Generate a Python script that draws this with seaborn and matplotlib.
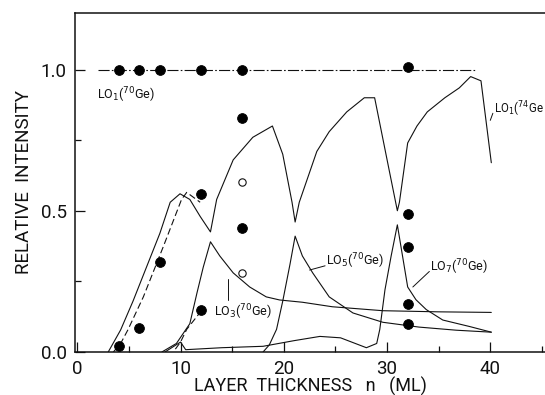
import matplotlib
matplotlib.use("Agg")
import matplotlib.pyplot as plt
import seaborn as sns
from matplotlib.ticker import MultipleLocator

# --- data -----------------------------------------------------------------
# LO1(70Ge) reference line at 1.0
lo1_70_n = [2.0, 38.5]
lo1_70_v = [1.0, 1.0]

# LO1(74Ge) sawtooth curve
lo1_74_n = [3.0, 4.2, 5.4, 6.7, 8.0, 9.0, 9.95, 10.9, 11.9, 12.9, 13.5, 15.1, 17.0,
            18.9, 19.9, 20.8, 21.1, 21.5, 23.2, 24.4, 26.1, 27.8, 28.8, 30.2, 31.0,
            31.2, 32.0, 32.9, 33.9, 35.6, 37.0, 38.1, 39.1, 40.1]
lo1_74_v = [0.0, 0.078, 0.18, 0.30, 0.42, 0.53, 0.56, 0.54, 0.48, 0.425, 0.54, 0.68, 0.76,
            0.80, 0.70, 0.53, 0.46, 0.53, 0.71, 0.78, 0.85, 0.90, 0.90, 0.645, 0.50,
            0.53, 0.74, 0.80, 0.85, 0.90, 0.935, 0.975, 0.96, 0.67]

# dashed companions
dash1_n = [3.5, 4.2, 4.9, 6.4, 8.3, 10.1, 10.6, 11.9]
dash1_v = [0.0, 0.03, 0.078, 0.195, 0.37, 0.54, 0.565, 0.53]
dash3_n = [9.5, 10.0, 10.6, 11.9]
dash3_v = [0.01, 0.035, 0.08, 0.14]

# LO3(70Ge)
lo3_n = [8.2, 9.6, 10.9, 11.6, 12.2, 12.9, 13.8, 15.1, 16.7, 18.3, 19.6, 21.8, 24.7, 29.6, 35.0, 40.1]
lo3_v = [0.0, 0.03, 0.10, 0.21, 0.30, 0.39, 0.34, 0.28, 0.23, 0.195, 0.184, 0.176, 0.16, 0.146, 0.142, 0.14]

# LO5(70Ge)
lo5_n = [18.0, 18.6, 19.3, 19.9, 20.6, 21.1, 21.8, 22.8, 24.4, 26.7, 29.6, 33.1, 36.7, 40.1]
lo5_v = [0.0, 0.025, 0.08, 0.18, 0.31, 0.41, 0.34, 0.28, 0.195, 0.138, 0.105, 0.088, 0.077, 0.07]

# LO7(70Ge)
lo7_n = [8.5, 10.0, 10.5, 14.0, 18.0, 21.0, 23.5, 25.5, 28.0, 29.0, 29.3, 29.8, 30.4, 31.0,
         31.5, 32.0, 32.8, 33.8, 35.4, 38.0, 40.1]
lo7_v = [0.0, 0.035, 0.008, 0.015, 0.02, 0.04, 0.055, 0.05, 0.015, 0.03, 0.08, 0.22, 0.34, 0.45,
         0.34, 0.23, 0.185, 0.15, 0.113, 0.09, 0.07]

# measured points
filled_n = [4, 6, 8, 12, 16, 32, 4, 6, 8, 12, 12, 16, 16, 32, 32, 32, 32]
filled_v = [1.0, 1.0, 1.0, 1.0, 1.0, 1.01, 0.02, 0.085, 0.32, 0.56, 0.15, 0.83, 0.44,
            0.49, 0.37, 0.17, 0.10]
open_n = [16, 16]
open_v = [0.60, 0.28]

# --- plot -------------------------------------------------------------------
sns.set_style("ticks")
plt.rcParams['font.family'] = ['Roboto', 'DejaVu Sans']
ink = "#111111"

fig = plt.figure(figsize=(5.45, 3.95), dpi=100)
ax = fig.add_axes([0.138, 0.109, 0.862, 0.858])

lw = 0.8
sns.lineplot(x=lo1_70_n, y=lo1_70_v, ax=ax, color=ink, lw=lw, sort=False)
ax.lines[-1].set_dashes([10, 2, 1.5, 2])
sns.lineplot(x=lo1_74_n, y=lo1_74_v, ax=ax, color=ink, lw=lw, sort=False)
for nn, vv in [(dash1_n, dash1_v), (dash3_n, dash3_v)]:
    sns.lineplot(x=nn, y=vv, ax=ax, color=ink, lw=lw, sort=False)
    ax.lines[-1].set_dashes([6, 3])
for nn, vv in [(lo3_n, lo3_v), (lo5_n, lo5_v), (lo7_n, lo7_v)]:
    sns.lineplot(x=nn, y=vv, ax=ax, color=ink, lw=lw, sort=False)

sns.scatterplot(x=filled_n, y=filled_v, ax=ax, color="black", s=50, edgecolor="black", zorder=5)
sns.scatterplot(x=open_n, y=open_v, ax=ax, facecolor="white", s=28, edgecolor=ink,
                linewidth=0.8, zorder=5)

# curve labels with leader lines
lab = dict(fontsize=9, color=ink)
ax.text(1.9, 0.91, r"LO$_1$($^{70}$Ge)", ha="left", va="center", **lab)
ax.text(13.2, 0.14, r"LO$_3$($^{70}$Ge)", ha="left", va="center", **lab)
ax.plot([14.6, 14.6], [0.185, 0.26], color=ink, lw=0.7)
ax.text(24.1, 0.32, r"LO$_5$($^{70}$Ge)", ha="left", va="center", **lab)
ax.plot([24.0, 22.5], [0.305, 0.29], color=ink, lw=0.7)
ax.text(34.2, 0.30, r"LO$_7$($^{70}$Ge)", ha="left", va="center", **lab)
ax.plot([34.1, 32.5], [0.285, 0.23], color=ink, lw=0.7)
ax.text(40.35, 0.86, r"LO$_1$($^{74}$Ge", ha="left", va="center", fontsize=8.3, color=ink)
ax.plot([40.0, 40.25], [0.82, 0.845], color=ink, lw=0.7)

ax.set_xlim(-0.2, 45.3)
ax.set_ylim(0, 1.2)
ax.xaxis.set_major_locator(MultipleLocator(10))
ax.xaxis.set_minor_locator(MultipleLocator(5))
ax.yaxis.set_major_locator(MultipleLocator(0.5))
ax.yaxis.set_minor_locator(MultipleLocator(0.25))
ax.set_yticks([0, 0.5, 1.0])
ax.set_yticklabels(["0.0", "0.5", "1.0"])

ax.tick_params(which="both", direction="in", top=False, right=False, colors=ink,
               labelsize=13.5, pad=6)
ax.tick_params(which="major", length=7, width=0.9)
ax.tick_params(which="minor", length=4, width=0.9)

for side in ["left", "bottom", "top"]:
    ax.spines[side].set_linewidth(1.1)
    ax.spines[side].set_color(ink)
ax.spines["right"].set_visible(False)

ax.set_xlabel("LAYER  THICKNESS   n   (ML)", fontsize=13, color=ink, labelpad=-1)
ax.set_ylabel("RELATIVE  INTENSITY", fontsize=13.5, color=ink, labelpad=6)

fig.savefig("out.png", dpi=100)
